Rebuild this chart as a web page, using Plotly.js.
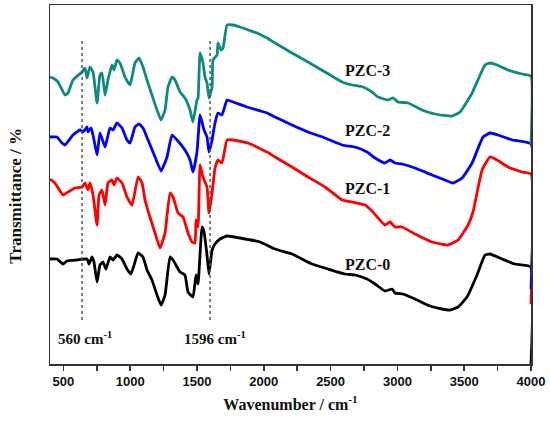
<!DOCTYPE html>
<html>
<head>
<meta charset="utf-8">
<script src="https://cdn.plot.ly/plotly-3.0.1.min.js"></script>
<style>html,body{margin:0;padding:0;background:#fff;}#chart{width:550px;height:424px;}</style>
</head>
<body>
<div id="chart"></div>
<script>
// Wavenumber (cm-1) and transmittance (arbitrary, offset)
const pzc3_x = [400,422,460,512,535,572,640,662,677,699,722,752,774,789,812,834,864,879,901,924,961,999,1036,1066,1096,1126,1163,1201,1231,1261,1283,1313,1336,1373,1410,1448,1470,1500,1508,1523,1545,1560,1575,1590,1613,1620,1650,1657,1680,1695,1725,1770,1822,1882,1949,2024,2084,2211,2331,2458,2586,2661,2743,2810,2855,2930,2967,3005,3080,3184,3282,3409,3469,3559,3656,3693,3746,3828,3933,4000,4000];
const pzc3_y = [287,286,282,269,271,284,292,296,286,297,292,261,289,291,269,284,299,294,304,301,287,279,301,306,297,284,269,254,244,254,277,287,284,272,266,254,242,264,266,311,301,287,281,266,277,304,309,321,314,316,339,339,337,334,331,326,321,311,302,292,282,279,277,272,267,264,266,262,261,254,250,248,252,271,299,301,299,294,290,288,219];

const pzc2_x = [400,452,490,512,572,625,647,677,684,707,722,752,774,812,849,872,901,939,976,999,1036,1066,1096,1134,1186,1231,1276,1313,1351,1410,1448,1470,1500,1523,1553,1575,1590,1613,1635,1657,1687,1725,1770,1875,2024,2084,2211,2331,2458,2586,2683,2773,2833,2907,2945,2982,3035,3132,3259,3356,3416,3484,3559,3641,3693,3753,3858,4000,4000];
const pzc2_y = [227,227,221,219,229,234,232,237,232,236,229,209,231,217,236,234,241,236,224,221,237,240,236,224,207,193,207,229,224,214,204,192,212,249,234,227,212,224,241,251,249,264,262,257,251,247,239,232,226,219,217,212,206,201,204,201,200,196,189,184,181,186,201,227,231,229,224,220,75];

const pzc1_x = [400,437,497,535,587,640,662,684,699,722,752,767,789,812,834,864,879,901,939,976,1014,1059,1089,1111,1148,1186,1223,1261,1298,1321,1358,1396,1433,1463,1485,1493,1508,1523,1545,1575,1590,1613,1635,1657,1687,1725,1770,1882,2024,2084,2211,2331,2458,2586,2661,2758,2810,2907,2945,2982,3035,3132,3259,3379,3454,3529,3566,3634,3693,3746,3828,3933,4000,4000];
const pzc1_y = [185,181,169,172,176,177,181,174,181,169,139,169,174,159,181,184,179,186,181,167,159,187,181,164,147,131,116,131,171,167,151,147,131,122,121,144,137,199,187,177,151,171,196,204,201,224,224,221,212,207,197,187,177,164,162,159,153,139,142,137,137,130,122,119,124,139,152,194,207,204,197,192,190,60];

const pzc0_x = [400,452,497,527,602,677,692,714,729,752,774,797,819,849,872,901,939,976,1006,1036,1059,1096,1126,1163,1201,1231,1261,1298,1321,1373,1410,1433,1470,1493,1508,1538,1553,1575,1590,1613,1635,1672,1725,1822,1972,2084,2211,2361,2481,2608,2683,2773,2833,2907,2960,2982,3042,3132,3244,3334,3394,3454,3521,3596,3656,3693,3783,3880,4000,4000];
const pzc0_y = [105,105,100,103,104,105,100,107,102,82,99,102,95,107,104,109,105,95,90,102,111,107,94,84,69,59,69,107,104,92,89,72,67,89,80,137,132,109,90,114,120,125,128,126,122,115,110,100,95,90,89,85,80,73,75,71,70,65,58,55,54,57,67,89,109,110,105,100,97,0];

const seriesNames = ['PZC-0','PZC-1','PZC-2','PZC-3'];
const seriesColors = ['#000000','#ff0000','#0000ff','#0e8a7e'];
const labelY = [100,176,234,294];
const labelX = 2773;
const markLines = [640, 1598];
const markLabels = ['560 cm<sup>-1</sup>','1596 cm<sup>-1</sup>'];
const markLabelX = [662, 1635];
const xTicks = [500,1000,1500,2000,2500,3000,3500,4000];

const xs = [pzc0_x, pzc1_x, pzc2_x, pzc3_x];
const ys = [pzc0_y, pzc1_y, pzc2_y, pzc3_y];

const traces = xs.map((x,i)=>({
  x: x, y: ys[i], type:'scatter', mode:'lines', name: seriesNames[i],
  line:{color: seriesColors[i], width:2.8, shape:'spline', smoothing:0.4},
  cliponaxis:false,
  hoverinfo:'skip'
}));

const serif = 'Liberation Serif, Times New Roman, serif';
const annotations = seriesNames.map((n,i)=>({
  x: labelX, y: labelY[i], xref:'x', yref:'y', text:'<b>'+n+'</b>', showarrow:false,
  font:{family:serif, size:16, color:'#111'}
})).concat(markLabels.map((t,i)=>({
  x: markLabelX[i], y: 26, xref:'x', yref:'y', text:'<b>'+t+'</b>', showarrow:false,
  font:{family:serif, size:15, color:'#111'}
}))).concat([{
  x: -0.072, y: 0.47, xref:'paper', yref:'paper', text:'<b>Transmittance / %</b>',
  textangle:-90, showarrow:false, xanchor:'center', yanchor:'middle',
  font:{family:serif, size:17, color:'#111'}
}]);

const shapes = markLines.map(v=>({
  type:'line', xref:'x', yref:'y', x0:v, x1:v, y0:44, y1:326,
  line:{color:'#555', width:1.5, dash:'dot'}
}));

const layout = {
  width:550, height:424,
  margin:{l:50, r:19, t:5, b:60},
  paper_bgcolor:'#fff', plot_bgcolor:'#fff',
  showlegend:false,
  xaxis:{
    range:[400,4000], tickvals:xTicks, ticks:'outside', ticklen:5, tickwidth:1.5, tickcolor:'#333',
    minor:{dtick:250, ticks:'outside', ticklen:5, tickwidth:1.5, tickcolor:'#333'},
    showline:true, mirror:true, linecolor:'#333', linewidth:1.5,
    showgrid:false, zeroline:false,
    tickfont:{family:'Liberation Sans, Arial, sans-serif', size:13, color:'#111', weight:'bold'},
    title:{text:'<b>Wavenumber / cm<sup>-1</sup></b>', font:{family:serif, size:16, color:'#111'}, standoff:10}
  },
  yaxis:{
    range:[0,359], showticklabels:false, ticks:'',
    showline:true, mirror:true, linecolor:'#333', linewidth:1.5,
    showgrid:false, zeroline:false
  },
  annotations: annotations,
  shapes: shapes
};

Plotly.newPlot('chart', traces, layout, {displayModeBar:false, staticPlot:true});
</script>
</body>
</html>
